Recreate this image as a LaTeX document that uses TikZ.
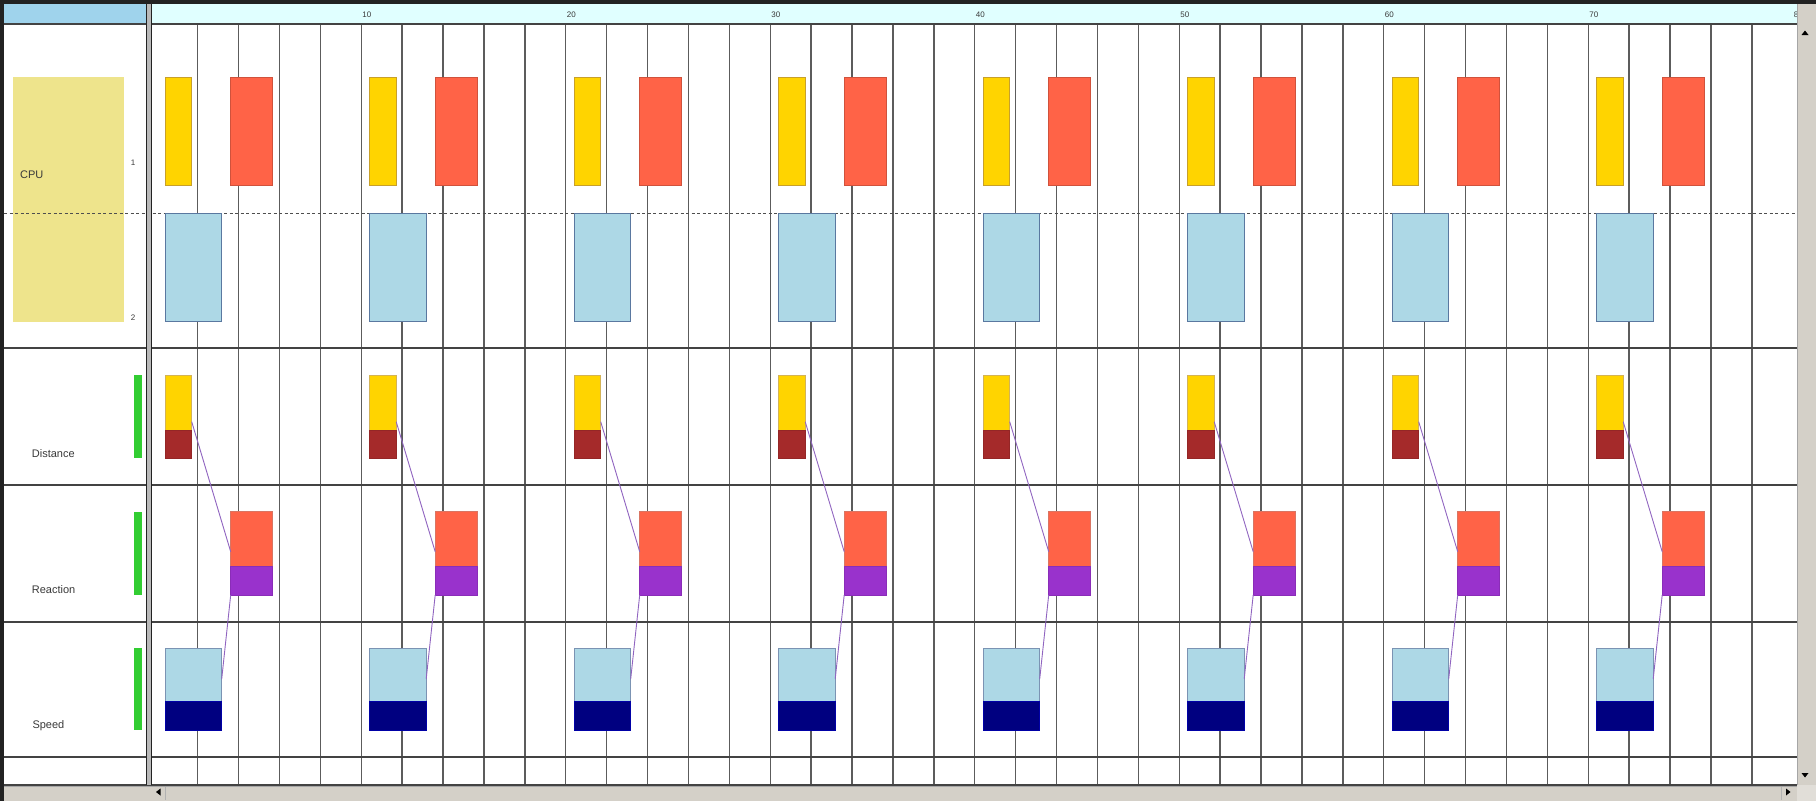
\documentclass[tikz,border=0pt]{standalone}
\usepackage{fontspec}
\setmainfont{Liberation Sans}
\definecolor{goldF}{HTML}{FFD400}
\definecolor{goldD}{HTML}{C8A02A}
\definecolor{tomF}{HTML}{FF6347}
\definecolor{tomD}{HTML}{D0523C}
\definecolor{lbF}{HTML}{ADD8E6}
\definecolor{lbD}{HTML}{5A78A0}
\definecolor{brownF}{HTML}{A52A2A}
\definecolor{purpF}{HTML}{9932CC}
\definecolor{navyF}{HTML}{000080}
\definecolor{greenF}{HTML}{32CD32}
\definecolor{khakiF}{HTML}{EEE48C}
\definecolor{connC}{HTML}{9064C0}
\definecolor{gridC}{HTML}{5C5C5C}
\definecolor{sbar}{HTML}{D4D0C8}
\definecolor{hdrL}{HTML}{9FD3EC}
\definecolor{hdrR}{HTML}{E0FFFF}
\definecolor{frameC}{HTML}{222222}
\definecolor{txtC}{HTML}{3A3A3A}
\begin{document}
\begin{tikzpicture}[x=1pt,y=1pt,
  box/.style={line width=0.9pt, anchor=north west, inner sep=0pt, outer sep=0pt},
  gridline/.style={draw=gridC, line width=1.4pt},
  rowline/.style={draw=frameC!85, line width=1.6pt},
  lbl/.style={font=\fontsize{11}{12}\selectfont, text=txtC, anchor=west, inner sep=0pt},
  small/.style={font=\fontsize{8}{9}\selectfont, text=txtC, inner sep=0pt},
  conn/.style={draw=connC, line width=0.9pt},
  gbar/.style={fill=greenF, draw=none, anchor=north west, inner sep=0pt, outer sep=0pt, minimum width=7.5pt}
]
\useasboundingbox (0,0) rectangle (1816,-801);
\fill[white] (0,0) rectangle (1816,-801);
% headers
\fill[hdrL] (4,-4) rectangle (146,-24);
\fill[hdrR] (152,-4) rectangle (1797,-24);
% CPU label background
\fill[khakiF] (12.7,-77) rectangle (124,-321.7);
% vertical grid
\foreach \u in {2,4,...,78}
  \draw[gridline] ({156.7+20.45*\u},-24) -- ({156.7+20.45*\u},-785);
% ruler labels
\foreach \u in {10,20,...,80}
  \node[small, anchor=west] (r\u) at ({157.7+20.45*\u},-15) {\u};
% horizontal lines
\draw[rowline] (4,-24) -- (1797,-24);
\foreach \yy in {348,485,622,757}
  \draw[rowline] (4,-\yy) -- (1797,-\yy);
\draw[rowline] (4,-785) -- (1797,-785);
\draw[draw=frameC!80, line width=0.8pt, dash pattern=on 3pt off 2.5pt] (4,-213.3) -- (1797,-213.3);
% left panel labels
\node[lbl] (cpu) at (20,-175) {CPU};
\node[small] (n1) at (133,-163) {1};
\node[small] (n2) at (133,-318) {2};
\node[lbl] (dist) at (31.7,-454) {Distance};
\node[lbl] (reac) at (31.7,-590) {Reaction};
\node[lbl] (spd) at (32.3,-726) {Speed};
% green bars
\node[gbar, minimum height=83.3pt] (g1) at (134.3,-375) {};
\node[gbar, minimum height=83.3pt] (g2) at (134.3,-511.7) {};
\node[gbar, minimum height=81.7pt] (g3) at (134.3,-648.3) {};
% panel divider
\fill[gray!55] (146,-4) rectangle (152,-785);
\draw[frameC, line width=1.3pt] (146.6,-4) -- (146.6,-785);
\draw[frameC, line width=1.3pt] (151.4,-4) -- (151.4,-785);
% periods
\foreach \k in {0,...,7}{
  \pgfmathsetmacro\o{204.5*\k}
  % CPU row
  \node[box, fill=goldF, draw=goldD, minimum width=26.7pt, minimum height=108pt] (cY\k) at (165+\o,-77) {};
  \node[box, fill=tomF, draw=tomD, minimum width=42pt, minimum height=108pt] (cR\k) at (230.7+\o,-77) {};
  \node[box, fill=lbF, draw=lbD, minimum width=56.7pt, minimum height=108.4pt] (cB\k) at (165+\o,-213.3) {};
  % Distance row
  \node[box, fill=goldF, draw=goldD!80, minimum width=26.7pt, minimum height=55pt] (dY\k) at (165+\o,-375) {};
  \node[box, fill=brownF, draw=brownF!90!black, minimum width=26.7pt, minimum height=28.3pt] (dB\k) at (165+\o,-430) {};
  % Reaction row
  \node[box, fill=tomF, draw=tomD!80, minimum width=42pt, minimum height=55pt] (rR\k) at (230.7+\o,-511.7) {};
  \node[box, fill=purpF, draw=purpF!90!black, minimum width=42pt, minimum height=28.3pt] (rP\k) at (230.7+\o,-566.7) {};
  % Speed row
  \node[box, fill=lbF, draw=lbD!80, minimum width=56.7pt, minimum height=53.4pt] (sL\k) at (165+\o,-648.3) {};
  \node[box, fill=navyF, draw=navyF!70!blue, minimum width=56.7pt, minimum height=28.3pt] (sN\k) at (165+\o,-701.7) {};
  % connectors
  \draw[conn] ([yshift=8.3pt]dY\k.south east) -- ([yshift=15pt]rR\k.south west);
  \draw[conn] (rP\k.south west) -- ([yshift=-4pt]sL\k.east);
}
% top/left frame
\fill[frameC] (0,0) rectangle (1816,-4);
\fill[frameC] (0,0) rectangle (4,-801);
% right scrollbar
\fill[sbar] (1797,-4) rectangle (1816,-785);
\draw[gray!70, line width=0.8pt] (1797,-4) -- (1797,-785);
\fill[black] (1801.5,-35) -- (1808.5,-35) -- (1805,-30.5) -- cycle;
\fill[black] (1801.5,-773) -- (1808.5,-773) -- (1805,-777.5) -- cycle;
% bottom scrollbar
\fill[sbar] (4,-786) rectangle (1797,-801);
\fill[sbar!70!white] (1797,-785) rectangle (1816,-801);
\draw[gray!70, line width=0.8pt] (4,-786) -- (1797,-786);
\fill[black] (160.5,-788.5) -- (160.5,-795.5) -- (156,-792) -- cycle;
\fill[black] (1786,-788.5) -- (1786,-795.5) -- (1790.5,-792) -- cycle;
\draw[gray!60, line width=0.8pt] (165,-787) -- (165,-800);
\draw[gray!60, line width=0.8pt] (1781,-787) -- (1781,-800);
\end{tikzpicture}
\end{document}
